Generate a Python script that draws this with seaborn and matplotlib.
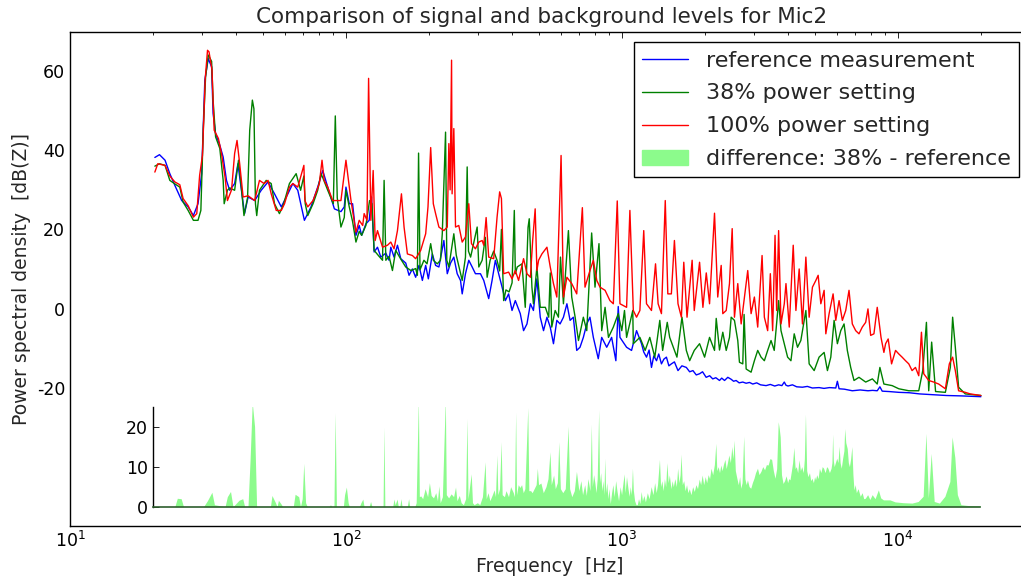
import numpy as np
import matplotlib
matplotlib.use("Agg")
import matplotlib.pyplot as plt
import seaborn as sns
from matplotlib.patches import Patch

# ---------------------------------------------------------------- data
ref_freq = [20.3, 21.1, 22.1, 23.0, 24.0, 25.4, 26.8, 28.0, 29.1, 30.0,
            30.8, 31.7, 32.6, 33.0, 33.7, 34.9, 35.9, 36.9, 37.9, 39.5,
            40.6, 41.8, 42.9, 44.2, 46.7, 49.3, 52.2, 55.1, 58.3, 61.6,
            64.2, 66.9, 70.7, 74.7, 79.0, 82.4, 85.9, 90.8, 95.9, 98.6,
            100, 102.8, 105.7, 108.7, 111.7, 114, 118.1, 121.4, 123.8, 126.5,
            130.1, 133.8, 139.5, 143.3, 145.4, 149.4, 153.7, 158, 164.7, 169.3,
            174.1, 178.9, 183.9, 189.2, 194.5, 198.9, 205.6, 211.3, 217.2, 226.4,
            232.9, 239.4, 246, 253, 260.1, 263.8, 271.1, 278.7, 286.7, 294.6,
            307.2, 315.8, 329.1, 338.5, 347.9, 357.6, 368, 378.1, 388.6, 399.8,
            410.9, 428.3, 440.2, 452.9, 466, 478, 492, 506, 520, 535,
            550, 565, 581, 597, 614, 632, 649, 667, 686, 705,
            725, 746, 766, 788, 821, 845, 881, 918, 951, 970,
            984, 1040, 1084, 1130,
            1178, 1200, 1228, 1255, 1280, 1305, 1335, 1360, 1391, 1420,
            1450, 1480, 1511, 1550, 1597, 1650, 1712, 1760, 1809, 1860,
            1912, 1960, 2020, 2080, 2134, 2190, 2258, 2300, 2355, 2420,
            2489, 2540, 2594, 2660, 2742, 2820, 2900, 2980, 3080, 3180,
            3330, 3450, 3580, 3700, 3800, 3877, 3932, 4000, 4150, 4300,
            4512, 4700, 4900, 5183, 5400, 5650, 5958, 6038, 6124, 6400,
            6839, 7300, 7794, 8100, 8420, 8610, 8777, 9300, 10083, 11000,
            12000, 13500, 15000, 17000, 20000]
ref_db = [38.2, 38.9, 37.5, 34.1, 31.1, 27.3, 25.7, 23.5, 26.5, 34.1,
          57.7, 63.2, 61.1, 49.4, 44.2, 41.3, 38.3, 32.4, 29.9, 31.6,
          36.6, 29.9, 24.0, 28.2, 27.3, 29.9, 32.0, 29.0, 25.7, 29.0,
          31.6, 29.9, 22.3, 25.7, 30.7, 34.9, 30.7, 25.2, 24.5, 25.7,
          30.7, 26.5, 26.5, 18.5, 21.0, 18.5, 21.4, 22.3, 28.2, 14.3,
          15.5, 13.0, 14.0, 12.2, 15.5, 13.0, 16.0, 12.6, 11.5, 8.4,
          10.0, 7.9, 10.9, 7.1, 10.9, 7.5, 13.8, 10.9, 10.5, 17.2,
          8.8, 11.5, 13.0, 8.8, 7.1, 3.7, 8.8, 12.2, 10.5, 8.8,
          8.8, 7.1, 2.5, 7.1, 12.2, 8.8, 5.4, 2.0, 3.7, -0.5,
          2.0, -1.3, -5.6, -3.9, 1.2, -0.5, 7.5, -2.2, -5.6, -2.2,
          -4.7, -8.9, -3.0, -3.9, -2.2, 1.2, -3.0, -2.2, -10.6, -9.8,
          -7.3, -3.9, -2.2, -7.3, -12.7, -7.3, -9.8, -7.3, -13.2, 0.5,
          -7.3, -9.8, -10.6, -5.6,
          -8.9, -11.0, -12.3, -10.5, -14.9, -12.0, -13.2, -11.5, -14.0, -12.8,
          -12.3, -14.5, -14.0, -13.5, -15.7, -14.5, -14.9, -16.0, -15.7, -16.8,
          -16.5, -16.0, -17.4, -17.0, -17.8, -17.5, -18.2, -17.6, -18.2, -17.4,
          -17.9, -18.4, -18.2, -18.8, -18.6, -18.9, -18.7, -19.1, -18.8, -19.3,
          -19.5, -19.2, -19.6, -19.3, -19.5, -18.6, -19.4, -19.6, -19.3, -19.8,
          -19.9, -19.7, -20.1, -20.0, -20.2, -20.0, -20.1, -18.4, -20.3, -20.4,
          -20.8, -20.6, -20.8, -20.7, -20.8, -19.8, -20.9, -21.0, -21.2, -21.3,
          -21.6, -21.8, -22.0, -22.1, -22.3]

p38_freq = [20.3, 21.1, 22.1, 23.0, 24.0, 25.0, 25.7, 26.8, 28.0, 29.1,
            29.8, 30.4, 31.0, 31.7, 32.6, 33.0, 33.7, 34.9, 35.9, 36.2,
            37.2, 37.9, 39.5, 40.8, 41.8, 42.7, 44.0, 44.8, 45.8, 46.4,
            47.0, 47.5, 48.6, 51.4, 53.6, 55.1, 57.4, 59.5, 62.4, 66.0,
            68.5, 70.4, 71.2, 72.7, 76.0, 79.0, 81.2, 82.5, 85.9, 90.0,
            91.5, 93.0, 95.9, 98.6, 100, 102.8, 105.7, 108.7, 111.7, 114,
            118.1, 121.8, 124.3, 126.5, 131.8, 135.7, 137.5, 139.5, 143.3, 147.4,
            151.5, 158, 164.7, 172, 178.9, 181.5, 183.3, 185.5, 191.7, 196.7,
            202.8, 207.3, 214.3, 220, 223.4, 229.6, 232, 236, 246, 251,
            263.8, 271.1, 275, 278, 283, 298.9, 303, 311.6, 320, 324.8,
            333, 343, 352.9, 360.6, 366, 372.8, 380, 390, 400, 407.5,
            411, 417.5, 434.4, 446.5, 457, 461.6, 472, 478, 492, 506,
            528, 543, 550, 557, 573, 589, 599, 614, 640, 658,
            677, 696, 725, 746, 777, 799, 826, 845, 869, 894,
            931, 970, 999, 1022, 1040, 1095, 1100, 1162, 1214, 1262,
            1316, 1372, 1405, 1460, 1490, 1583, 1651, 1712, 1760, 1829,
            1912, 1994, 2078, 2166, 2197, 2258, 2321, 2388, 2454, 2489,
            2558, 2630, 2667, 2742, 2772, 2820, 2939, 3021, 3106, 3194,
            3283, 3375, 3471, 3565, 3698, 3772, 3877, 3986, 4098, 4212,
            4329, 4451, 4642, 4771, 4975, 5183, 5406, 5557, 5715, 5875,
            6038, 6211, 6384, 6561, 6748, 6937, 7231, 7646, 8086, 8420,
            8610, 8902, 9537, 10083, 10956, 11906, 12311, 12694, 12939, 13260,
            13700, 14867, 15498, 15796, 16154, 16603, 17554, 20000]
p38_db = [36.0, 36.6, 36.2, 32.4, 31.5, 30.7, 26.9, 24.8, 22.3, 22.3,
          24.8, 45.1, 58.6, 64.1, 62.5, 52.7, 43.4, 40.5, 32.4, 26.5,
          29.9, 30.5, 29.9, 37.5, 30.5, 23.5, 28.0, 45.1, 52.7, 50.5,
          26.5, 23.5, 29.9, 32.4, 31.6, 26.5, 24.0, 26.5, 31.6, 34.1,
          29.9, 33.5, 26.5, 23.5, 26.5, 29.9, 34.1, 33.0, 29.9, 26.5,
          48.7, 28.0, 20.6, 23.0, 29.9, 25.7, 22.0, 16.8, 19.5, 18.5,
          21.0, 27.3, 26.5, 14.7, 13.2, 12.2, 32.4, 12.2, 13.2, 9.6,
          14.7, 12.5, 10.5, 9.6, 10.1, 8.4, 39.3, 9.8, 12.2, 11.3,
          16.4, 12.2, 11.3, 12.2, 18.9, 44.6, 12.2, 10.5, 18.9, 13.5,
          7.1, 13.0, 35.8, 14.5, 13.0, 20.6, 10.5, 12.2, 18.0, 7.9,
          12.2, 14.5, 12.2, 9.5, 20.0, 2.0, 4.7, 4.2, 6.5, 24.8,
          8.8, 10.5, 11.3, 0.3, 20.5, 22.7, 5.4, 1.2, 10.5, 0.3,
          0.3, -2.2, 9.0, -4.7, -0.5, -2.2, 13.0, 1.2, 19.7, 2.9,
          -2.2, -8.1, -2.2, -5.6, 19.1, 5.4, 16.4, -5.6, 0.3, -7.3,
          -4.7, -1.3, -5.6, -0.5, -7.3, -0.5, -8.9, -7.3, -10.6, -7.3,
          -12.3, -3.0, -10.6, -3.5, -7.3, -12.3, -2.2, -10.6, -13.2, -10.6,
          -8.9, -12.3, -7.3, -10.6, -2.5, -10.5, -6.0, -10.6, -7.3, -2.2,
          -3.0, -8.1, -13.6, -14.0, -1.5, -15.3, -16.1, -13.2, -10.6, -12.3,
          -13.2, -10.6, -8.1, -10.6, 2.0, -5.6, -8.9, -12.3, -13.2, -6.4,
          -9.8, -8.1, -0.5, -14.0, -15.7, -12.3, -11.1, -15.7, -12.3, -3.0,
          -8.9, -5.6, -3.9, -10.6, -14.9, -18.2, -17.4, -18.6, -17.8, -19.1,
          -14.9, -19.1, -19.5, -20.3, -20.8, -20.8, -15.7, -3.5, -20.8, -8.5,
          -21.0, -21.2, -14.9, -2.2, -9.8, -19.9, -21.6, -22.0]

p100_freq = [20.3, 20.8, 22.1, 23.0, 24.0, 25.0, 25.7, 26.8, 28.0, 28.8,
             29.5, 30.2, 30.9, 31.5, 31.9, 32.7, 33.3, 34.5, 35.4, 36.5,
             37.2, 38.5, 39.5, 40.3, 41.2, 42.4, 44.2, 46.7, 48.6, 50.5,
             52.2, 53.6, 55.9, 58.3, 59.9, 62.4, 64.2, 66.9, 70.4, 71.0,
             72.7, 76.0, 80.1, 81.9, 83.4, 85.9, 89.5, 92.0, 95.9, 100,
             104.3, 108.7, 111.7, 115.0, 116.4, 119.2, 120.8, 123.1, 125.5, 127.6,
             130.1, 135.7, 141.4, 145.4, 149.4, 153.7, 158.9, 162.4, 167, 174.1,
             178.9, 186.6, 194.5, 198.3, 202.8, 207.3, 211.3, 217.2, 226.4, 232.9,
             236, 238.5, 241.4, 242.5, 246, 249.5, 256.4, 263.8, 271.1, 278.7,
             285, 294.6, 302.9, 311.6, 315.8, 322.1, 329.1, 343.1, 352.9, 360.6,
             366, 372.8, 388.6, 399.8, 410.9, 422.3, 440.2, 452.9, 466, 475,
             485, 492, 499, 513, 535, 550, 565, 581, 602, 614,
             632, 658, 686, 719, 735, 766, 788, 811, 833, 869,
             905, 931, 962, 984, 1040, 1069, 1100, 1130, 1162, 1200,
             1228, 1280, 1324, 1353, 1391, 1436, 1467, 1511, 1550, 1597,
             1643, 1676, 1722, 1797, 1829, 1912, 1966, 2022, 2078, 2166,
             2225, 2290, 2321, 2388, 2454, 2510, 2558, 2630, 2705, 2780,
             2858, 2939, 3021, 3106, 3221, 3283, 3375, 3451, 3518, 3589,
             3637, 3698, 3772, 3877, 3932, 4041, 4177, 4272, 4390, 4512,
             4642, 4771, 4904, 5045, 5143, 5259, 5406, 5483, 5636, 5826,
             5958, 6124, 6294, 6474, 6654, 6839, 7035, 7231, 7433, 7646,
             7794, 7971, 8192, 8420, 8690, 8902, 9029, 9226, 9490, 9811,
             10083, 10363, 10661, 10956, 11261, 11585, 11906, 12178, 12413, 12939,
             13490, 14061, 14867, 15368, 15796, 16154, 16603, 17554, 18300, 20000]
p100_db = [34.5, 36.6, 36.2, 33.5, 32.0, 31.3, 27.8, 26.0, 23.1, 24.0,
           33.7, 38.7, 58.0, 65.3, 64.9, 60.3, 45.1, 43.0, 39.2, 33.0,
           27.3, 30.0, 39.2, 42.5, 36.6, 28.2, 28.5, 27.3, 32.4, 31.6,
           32.4, 29.0, 24.8, 24.8, 26.5, 30.7, 31.6, 30.7, 36.2, 27.3,
           25.7, 27.3, 31.6, 37.5, 32.4, 30.7, 27.3, 27.3, 27.3, 37.5,
           27.3, 19.3, 22.3, 21.0, 24.0, 22.3, 58.2, 22.3, 34.9, 17.2,
           19.7, 15.5, 16.0, 16.8, 15.1, 19.7, 29.0, 20.6, 13.8, 13.4,
           12.6, 14.7, 18.9, 25.7, 40.7, 26.5, 24.0, 20.6, 19.7, 20.6,
           41.7, 30.0, 62.8, 29.0, 45.5, 20.6, 21.0, 16.8, 18.1, 26.5,
           16.4, 15.1, 16.8, 17.2, 16.0, 23.0, 13.0, 12.6, 23.1, 29.5,
           27.8, 8.8, 9.2, 7.5, 9.6, 7.1, 12.6, 8.8, 7.9, 17.2,
           25.2, 9.6, 12.2, 13.8, 15.5, 10.5, 6.3, 2.9, 38.7, 2.9,
           7.9, 6.3, 3.7, 25.5, 5.4, 9.6, 12.2, 7.1, 5.4, 4.6,
           2.0, 1.2, 27.2, 1.2, 0.3, 24.8, -0.5, -2.2, -0.5, 19.7,
           1.2, -0.5, 11.3, 1.2, -1.3, 27.3, 3.7, 3.7, 17.2, 1.2,
           -2.2, 11.7, -2.2, 12.2, -0.5, 11.7, 0.3, 9.0, 1.2, 24.1,
           2.9, 10.9, -1.3, -0.5, 6.3, 20.2, -2.2, 6.3, -3.9, 2.9,
           9.6, -1.3, 2.9, -4.7, 13.4, -2.2, -5.6, 8.8, -5.6, 18.5,
           -0.5, 19.7, -3.9, 1.2, 6.3, -4.7, 16.0, -0.5, 10.0, -3.9,
           13.0, -2.2, 5.4, 7.1, 8.4, 1.2, 4.6, -6.4, -1.3, 3.7,
           -3.0, 2.0, -3.0, -0.5, 4.6, -3.9, -5.6, -6.4, -4.7, -3.5,
           -0.1, -6.8, -6.4, 0.3, -7.3, -11.1, -8.9, -7.7, -14.0, -10.6,
           -11.5, -12.3, -13.2, -14.0, -15.7, -14.9, -17.0, -6.0, -16.5, -18.2,
           -18.6, -19.1, -20.3, -14.0, -12.3, -15.7, -20.8, -21.2, -21.6, -22.0]

# (frequency [Hz], 38% minus reference [dB]) where the difference is positive
diff_points = [
    (20, 0), (24.0, 0), (24.5, 2.1), (25.3, 2.0), (25.8, 0), (30.5, 0),
    (31.5, 1.5), (32.7, 3.6), (33.4, 0.5), (36.5, 0), (37.2, 2.5), (38.2, 3.8),
    (39.0, 0), (40.0, 0.8), (41.0, 1.6), (42.3, 2.0), (43.0, 0), (44.2, 0),
    (45.0, 12), (45.8, 26), (46.7, 20), (47.5, 0), (53.3, 0), (54.0, 2.8),
    (55.6, 1.0), (56.3, 0), (57.0, 1.6), (58.5, 0.5), (59.0, 0), (64.5, 0),
    (65.5, 3.1), (67.5, 2.5), (68.5, 0), (69.5, 2.0), (70.4, 10.8), (71.5, 1.0),
    (72.5, 0), (87, 0), (88, 0.5), (89, 0), (90.6, 0), (91.5, 23.4),
    (92.5, 0), (98, 0), (99, 3.0), (100.5, 4.9), (102, 1.0), (103, 0),
    (112, 0), (113.5, 1.0), (115.3, 1.9), (116.5, 0), (121.5, 0), (123, 1.3),
    (124.5, 0), (136.5, 0), (137.5, 19.9), (138.6, 0), (148, 0), (149.5, 1.9),
    (151, 0.5), (153.5, 1.9), (155, 0), (157, 0), (158.5, 2.0), (160, 0),
    (167, 0), (169, 2.0), (170.5, 0), (178, 0), (180, 1.0), (183.3, 27),
    (184.8, 2.5), (187, 2.7), (190, 2.0), (194, 4.5), (198, 2.5), (201, 6.0),
    (204, 2.8), (208, 2.2), (212, 3.5), (215, 1.5), (217.5, 5.2), (220, 1.0),
    (224, 2.5), (229.6, 27), (231.5, 3.0), (236, 2.2), (241, 3.2), (246, 2.5),
    (250, 4.9), (253, 1.5), (258, 2.8), (262, 1.0), (267, 0.5), (272, 2.0),
    (275, 22), (277.5, 2.0), (285, 8.2), (288, 1.0), (292, 0.5), (300, 1.0),
    (306, 0.5), (313, 2.5), (320, 11.2), (323, 2.0), (328, 3.5), (333, 1.5),
    (340, 3.0), (345, 4.2), (349, 2.5), (353, 12.9), (356, 3.0), (361, 4.5),
    (366, 16.2), (369, 3.0), (376, 2.5), (381, 4.0), (389, 2.5), (396, 5.0),
    (405, 3.5), (409, 2.5), (413, 23.6), (416, 3.0), (422, 5.5), (428, 4.8),
    (434, 5.5), (440, 3.5), (446, 4.5), (457, 24.7), (461, 4.0), (468, 4.0),
    (474, 3.5), (482, 4.5), (490, 5.5), (495, 9.6), (500, 5.5), (510, 5.9),
    (520, 3.5), (532, 5.0), (541, 7.0), (550, 13.7), (556, 5.5), (567, 7.9),
    (575, 4.5), (585, 6.0), (592, 16.2), (600, 4.5), (612, 3.5), (625, 4.5),
    (640, 20.1), (648, 4.5), (660, 2.5), (674, 4.0), (686, 8.8),
    (700, 4.0), (712, 6.5), (722, 3.0), (735, 5.5), (745, 2.8), (755, 7.0),
    (768, 4.0), (777, 20.6), (783, 5.0), (792, 8.0), (800, 6.0), (808, 3.5),
    (816, 7.0), (826, 24.2), (832, 6.0), (840, 8.5), (848, 4.0), (856, 6.5),
    (863, 3.0), (869, 12.1), (876, 3.5), (884, 6.0), (892, 2.0), (900, 4.5),
    (910, 0.8), (920, 3.5), (930, 5.5), (940, 2.5), (952, 6.5), (962, 4.0),
    (975, 1.5), (988, 5.0), (1000, 3.0), (1012, 6.0), (1022, 8.2), (1030, 3.5),
    (1042, 7.5), (1055, 4.5), (1065, 2.6), (1075, 5.0), (1085, 3.0), (1095, 9.6),
    (1103, 4.2), (1115, 1.5), (1128, 0.5), (1140, 0.5), (1152, 2.0), (1165, 0.8),
    (1178, 3.8), (1190, 1.5), (1205, 2.8), (1220, 1.2), (1240, 3.5), (1258, 2.0),
    (1280, 5.0), (1300, 3.0), (1318, 6.0), (1335, 3.5), (1350, 5.5), (1372, 11.8),
    (1385, 5.0), (1400, 6.5), (1415, 4.0), (1430, 7.0), (1445, 5.0), (1460, 11.0),
    (1475, 6.0), (1490, 7.9), (1510, 4.5), (1525, 6.5), (1540, 5.0), (1560, 7.0),
    (1580, 5.0), (1597, 9.6), (1615, 6.0), (1630, 8.0), (1643, 13.1), (1660, 5.5),
    (1680, 6.5), (1700, 4.0), (1720, 5.5), (1740, 3.5), (1760, 4.5), (1785, 3.0),
    (1810, 5.0), (1835, 3.8), (1860, 5.5), (1885, 4.5), (1912, 6.9), (1935, 5.5),
    (1960, 7.9), (1985, 5.5), (2010, 7.5), (2035, 6.0), (2060, 8.0), (2085, 7.0),
    (2110, 9.6), (2140, 8.0), (2170, 10.5), (2197, 15.8), (2215, 9.0), (2240, 10.0),
    (2265, 8.5), (2290, 10.4), (2315, 9.0), (2340, 10.5), (2370, 11.8), (2395, 9.5),
    (2420, 11.0), (2450, 12.9), (2480, 11.0), (2510, 15.0), (2535, 12.0), (2558, 16.6),
    (2585, 9.0), (2620, 7.0), (2650, 5.5), (2680, 7.5), (2705, 4.6), (2735, 6.0),
    (2772, 17.6), (2800, 7.0), (2830, 5.5), (2860, 6.7), (2900, 5.0), (2940, 4.6),
    (2980, 6.0), (3021, 7.1), (3060, 8.5), (3110, 9.6), (3150, 8.0), (3200, 8.8),
    (3250, 10.0), (3300, 9.2), (3350, 10.5), (3400, 10.4), (3450, 12.0), (3500, 11.8),
    (3550, 9.0), (3600, 7.1), (3650, 9.5), (3698, 21.2), (3730, 19.5), (3760, 17.4),
    (3800, 8.0), (3850, 5.8), (3900, 6.5), (3950, 7.7), (4000, 6.0), (4040, 7.0),
    (4080, 6.7), (4130, 9.0), (4170, 11.0), (4213, 14.8), (4260, 9.5), (4300, 10.0),
    (4350, 8.5), (4400, 11.7), (4450, 9.0), (4500, 10.0), (4560, 8.5), (4600, 12.0),
    (4642, 23.1), (4690, 9.0), (4740, 7.5), (4800, 8.5), (4850, 6.5), (4904, 7.1),
    (4960, 6.0), (5010, 7.5), (5050, 6.7), (5100, 8.0), (5160, 7.0), (5215, 9.6),
    (5280, 8.5), (5340, 10.0), (5400, 9.6), (5470, 8.5), (5540, 10.0), (5600, 9.6),
    (5670, 8.5), (5750, 9.6), (5790, 11.0), (5826, 18.1), (5860, 11.5), (5900, 10.0),
    (5960, 11.0), (6030, 12.1), (6090, 11.0), (6150, 15.1), (6200, 11.0), (6260, 9.6),
    (6330, 12.0), (6400, 14.0), (6440, 19.5), (6500, 16.0), (6580, 14.5), (6640, 11.0),
    (6700, 10.0), (6770, 12.0), (6839, 15.0), (6900, 8.0), (6960, 4.2), (7030, 5.5),
    (7100, 3.5), (7200, 4.5), (7336, 2.6), (7450, 3.5), (7550, 2.0), (7650, 2.1),
    (7800, 3.0), (7950, 1.8), (8100, 3.0), (8300, 2.0), (8532, 4.2), (8700, 2.2),
    (8900, 1.7), (9400, 1.7), (9811, 1.2), (10500, 1.0), (11300, 0.9), (11900, 1.3),
    (12400, 2.6), (12694, 18.3), (12950, 2.2), (13260, 13.3), (13600, 1.3), (14200, 0.9),
    (14870, 2.6), (15500, 6.3), (15796, 17.4), (16154, 12.3), (16500, 3.0), (17000, 0.5),
    (18000, 0.3), (20000, 0.2),
]
diff_freq = [p[0] for p in diff_points]
diff_db = [p[1] for p in diff_points]

labels = ["reference measurement", "38% power setting",
          "100% power setting", "difference: 38% - reference"]
line_colors = ["#0000ff", "#008000", "#ff0000"]
fill_color = "#8cfb8c"

# ---------------------------------------------------------------- style
sns.set_style("white")
plt.rcParams.update({
    "font.family": ["DejaVu Sans"],
    "axes.unicode_minus": False,
    "axes.edgecolor": "black",
    "axes.linewidth": 1.0,
    "xtick.direction": "in", "ytick.direction": "in",
    "xtick.top": True, "ytick.right": True,
    "xtick.major.size": 4, "xtick.minor.size": 2,
    "ytick.major.size": 4, "ytick.minor.size": 2,
    "xtick.major.width": 0.6, "xtick.minor.width": 0.6,
    "ytick.major.width": 0.6,
    "xtick.color": "black", "ytick.color": "black",
    "xtick.labelsize": 12.5, "ytick.labelsize": 12.5,
})

W, H = 1021, 577
fig = plt.figure(figsize=(W / 100, H / 100), dpi=100)
fig.patch.set_facecolor("white")

# main axes: 10 Hz .. 30 kHz, right edge runs just past the canvas
ax = fig.add_axes([70 / W, 1 - 526 / H, (1029.5 - 70) / W, (526 - 31.7) / H])
for f, v, c in [(ref_freq, ref_db, line_colors[0]),
                (p38_freq, p38_db, line_colors[1]),
                (p100_freq, p100_db, line_colors[2])]:
    sns.lineplot(x=np.array(f, float), y=np.array(v, float), ax=ax, color=c,
                 linewidth=1.0, estimator=None, sort=False, legend=False)

ax.set_xscale("log")
ax.set_xlim(10, 30000)
ax.set_ylim(-55, 70)
ax.set_yticks([-20, 0, 20, 40, 60])
ax.tick_params(which="both", top=True, right=True, direction="in")
ax.set_title("Comparison of signal and background levels for Mic2",
             fontsize=15.5, x=0.4914)
ax.set_xlabel("Frequency  [Hz]", fontsize=13.5)
ax.set_ylabel("Power spectral density  [dB(Z)]", fontsize=13.5)

handles = [plt.Line2D([], [], color=c, lw=1.0) for c in line_colors]
handles.append(Patch(facecolor=fill_color, edgecolor=fill_color))
leg = ax.legend(handles, labels, loc="upper right", fontsize=16,
                fancybox=False, frameon=True, framealpha=1,
                edgecolor="black", handlelength=2.06, handletextpad=0.8,
                borderpad=0.37, labelspacing=0.58, borderaxespad=0.48)
leg.get_frame().set_linewidth(1.0)

# difference strip underneath the spectra
axd = fig.add_axes([153 / W, 1 - 506.7 / H, (980.4 - 153) / W, (506.7 - 406.5) / H])
axd.patch.set_alpha(0)
axd.fill_between(np.array(diff_freq, float), 0, np.array(diff_db, float),
                 color=fill_color, linewidth=0)
axd.set_xscale("log")
axd.set_xlim(20, 20000)
axd.set_ylim(0, 25)
axd.set_yticks([0, 10, 20])
axd.set_xticks([])
axd.xaxis.set_minor_locator(matplotlib.ticker.NullLocator())
axd.tick_params(axis="y", which="both", direction="in", left=True, right=False,
                labelsize=12.5)
for s in ["top", "right"]:
    axd.spines[s].set_visible(False)
axd.spines["bottom"].set_color("#2d5e2d")
axd.spines["bottom"].set_linewidth(1.2)

fig.savefig("out.png", dpi=100)
